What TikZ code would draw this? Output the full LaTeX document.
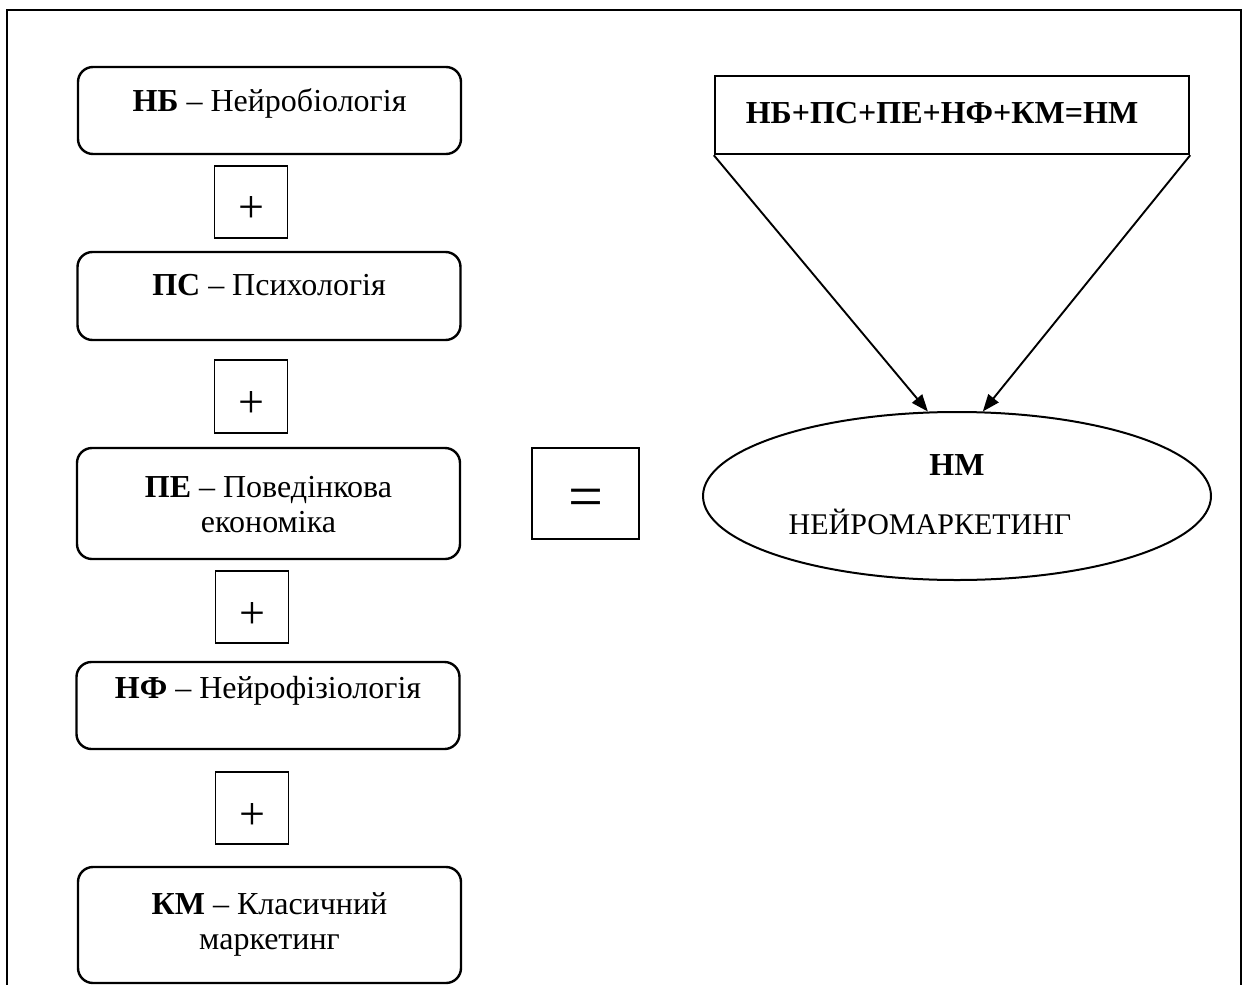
\documentclass[tikz,border=0pt]{standalone}
\usepackage{fontspec}
\setmainfont{Liberation Serif}
\usetikzlibrary{arrows.meta,shapes.geometric}
\begin{document}
\begin{tikzpicture}[x=1pt,y=-1pt,
  rbox/.style={draw, line width=2.4pt, rounded corners=15pt, minimum width=383pt, inner sep=0pt},
  pbox/.style={draw, line width=1.9pt, minimum width=73pt, minimum height=72pt, inner sep=0pt},
  txt/.style={font=\fontsize{32}{37}\selectfont, anchor=base, align=center, inner sep=0pt},
  sym/.style={font=\fontsize{46}{46}\selectfont, inner sep=0pt},
  conn/.style={line width=1.9pt, -{Triangle[length=17pt,width=13pt]}}
]
\useasboundingbox (0,0) rectangle (1245,985);
\draw[line width=1.6pt] (7,985) -- (7,10) -- (1241,10) -- (1241,985);

% left column
\node[rbox, minimum height=87pt] (nb) at (269.5,110.5) {};
\node[txt] (nbt) at (269.5,111) {\textbf{НБ} – Нейробіологія};
\node[pbox] (p1) at (251,202) {};
\node[sym] (p1t) at (251,210) {+};

\node[rbox, minimum height=88pt] (ps) at (269,296) {};
\node[txt] (pst) at (269,295) {\textbf{ПС} – Психологія};
\node[pbox, minimum height=73pt] (p2) at (251,396.5) {};
\node[sym] (p2t) at (251,404.5) {+};

\node[rbox, minimum height=111pt] (pe) at (268.5,503.5) {};
\node[txt] (pet1) at (268.5,497) {\textbf{ПЕ} – Поведінкова};
\node[txt] (pet2) at (268.5,532) {економіка};
\node[pbox] (p3) at (252,607) {};
\node[sym] (p3t) at (252,615) {+};

\node[rbox, minimum height=87pt] (nf) at (268,705.5) {};
\node[txt] (nft) at (268,698) {\textbf{НФ} – Нейрофізіологія};
\node[pbox] (p4) at (252,808) {};
\node[sym] (p4t) at (252,816) {+};

\node[rbox, minimum height=116pt] (km) at (269.5,925) {};
\node[txt] (kmt1) at (269.5,914) {\textbf{КМ} – Класичний};
\node[txt] (kmt2) at (269.5,949) {маркетинг};

% equals
\node[pbox, line width=2pt, minimum width=107pt, minimum height=91pt] (eq) at (585.5,493.5) {};
\node[font=\fontsize{62}{62}\selectfont, inner sep=0pt] (eqt) at (586,503) {=};

% right side
\node[draw, line width=2.4pt, minimum width=474pt, minimum height=78pt, inner sep=0pt] (res) at (952,115) {};
\node[txt] (rest) at (942,123) {\textbf{НБ+ПС+ПЕ+НФ+КМ=НМ}};
\node[draw, ellipse, line width=2pt, minimum width=508pt, minimum height=168pt, inner sep=0pt] (nm) at (957,496) {};
\node[txt] (nmt1) at (957,475) {\textbf{НМ}};
\node[txt, font=\fontsize{30}{36}\selectfont] (nmt2) at (930,534) {НЕЙРОМАРКЕТИНГ};

\draw[conn] (res.south west) -- (nm.109);
\draw[conn] (res.south east) -- (nm.73);
\end{tikzpicture}
\end{document}
